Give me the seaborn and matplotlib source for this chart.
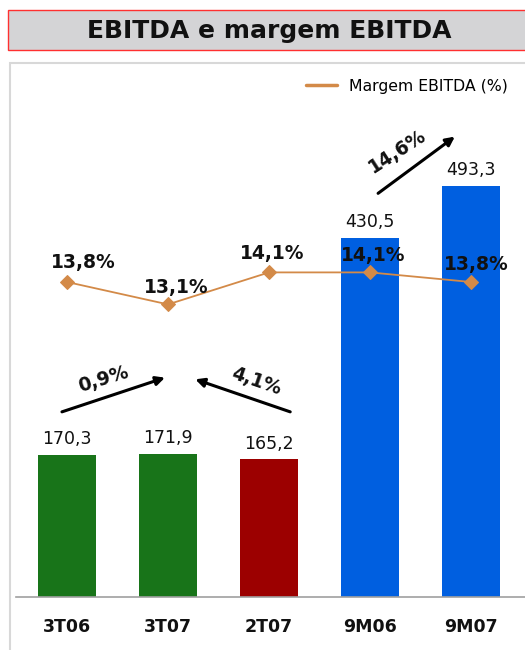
import matplotlib
matplotlib.use("Agg")
import matplotlib.pyplot as plt
from matplotlib.patches import Rectangle
import numpy as np
import pandas as pd
import seaborn as sns

categories = ["3T06", "3T07", "2T07", "9M06", "9M07"]
ebitda = [170.3, 171.9, 165.2, 430.5, 493.3]
ebitda_labels = ["170,3", "171,9", "165,2", "430,5", "493,3"]
margem = [13.8, 13.1, 14.1, 14.1, 13.8]
margem_labels = ["13,8%", "13,1%", "14,1%", "14,1%", "13,8%"]
bar_colors = ["#187419", "#187419", "#9c0000", "#005fe0", "#005fe0"]
growth_labels = ["0,9%", "4,1%", "14,6%"]

sns.set_theme(style="white")
plt.rcParams['font.family'] = ['DejaVu Sans']

W, H = 525, 650
fig = plt.figure(figsize=(W / 100, H / 100), dpi=100)

def fx(px):
    return px / W

def fy(py):
    return 1 - py / H

# panel border
fig.patches.append(Rectangle((fx(10), fy(700)), fx(560), (700 - 63) / H,
                             transform=fig.transFigure, fill=False,
                             edgecolor="#d8d8d8", linewidth=1.5, zorder=0))
# title box
fig.patches.append(Rectangle((fx(8), fy(50)), fx(560), 40 / H,
                             transform=fig.transFigure, facecolor="#d4d4d6",
                             edgecolor="#ff3030", linewidth=1.0, zorder=1))
fig.text(fx(269), fy(31), "EBITDA e margem EBITDA", ha="center", va="center",
         fontsize=18, fontweight="bold", color="#111111")

ax_left, ax_right, ax_bottom, ax_top = 16, 525, 597, 70
ax = fig.add_axes([fx(ax_left), fy(ax_bottom), fx(ax_right - ax_left),
                   (ax_bottom - ax_top) / H])
ax.set_facecolor("none")

df = pd.DataFrame({"cat": categories, "val": ebitda})
sns.barplot(data=df, x="cat", y="val", hue="cat", palette=bar_colors,
            width=0.58, legend=False, ax=ax, saturation=1, edgecolor="none")

px_per_unit = 0.834
ax.set_ylim(0, (ax_bottom - ax_top) / px_per_unit)
xl = ((ax_left - 67) / 101, (ax_right - 67) / 101)
ax.set_xlim(*xl)

for i, (v, lab) in enumerate(zip(ebitda, ebitda_labels)):
    ax.text(i, v + 8, lab, ha="center", va="bottom", fontsize=12.5, color="#111111")

ax.set_xlabel("")
ax.set_ylabel("")
ax.set_yticks([])
ax.tick_params(axis="x", length=0, pad=15)
for t in ax.get_xticklabels():
    t.set_fontweight("bold")
    t.set_fontsize(12.5)
    t.set_color("#111111")
for s in ["top", "right", "left"]:
    ax.spines[s].set_visible(False)
ax.spines["bottom"].set_color("#a0a0a0")
ax.spines["bottom"].set_linewidth(1.2)

# secondary axis for margin
ax2 = ax.twinx()
px2 = 32.0
bottom2 = 13.8 - (ax_bottom - 282) / px2
ax2.set_ylim(bottom2, bottom2 + (ax_bottom - ax_top) / px2)
sns.lineplot(x=np.arange(len(categories)), y=margem, ax=ax2, color="#d38a48",
             marker="D", markersize=7, markeredgecolor="#d38a48", linewidth=1.3,
             label="Margem EBITDA (%)")
ax2.set_xlim(*xl)
ax2.set_yticks([])
for s in ax2.spines.values():
    s.set_visible(False)
label_dx = [0.16, 0.08, 0.03, 0.03, 0.05]
label_off = [0.6, 0.52, 0.58, 0.52, 0.55]
for i, (m, lab) in enumerate(zip(margem, margem_labels)):
    ax2.text(i + label_dx[i], m + label_off[i], lab, ha="center",
             va="center", fontsize=13.5, fontweight="bold", color="#111111")

leg = ax2.legend(loc="upper right", bbox_to_anchor=(0.995, 1.01), frameon=False,
                 fontsize=11.3, handlelength=2.0, handletextpad=0.8)
for h in leg.legend_handles:
    h.set_marker("")
    h.set_linewidth(2.5)
for t in leg.get_texts():
    t.set_color("#000000")

# growth arrows (primary axis data coords)
arrow_kw = dict(arrowstyle="-|>", color="black", lw=2.2, mutation_scale=13,
                shrinkA=0, shrinkB=0)
ax.annotate("", xy=(0.97, 263), xytext=(-0.05, 222), arrowprops=arrow_kw)
ax.annotate("", xy=(1.27, 261), xytext=(2.21, 222), arrowprops=arrow_kw)
ax.annotate("", xy=(3.84, 552), xytext=(3.08, 484), arrowprops=arrow_kw)
ax.text(0.36, 261, growth_labels[0], rotation=17, ha="center", va="center",
        fontsize=13.5, fontweight="bold", color="#111111")
ax.text(1.87, 258, growth_labels[1], rotation=-19, ha="center", va="center",
        fontsize=13.5, fontweight="bold", color="#111111")
ax.text(3.27, 534, growth_labels[2], rotation=33, ha="center", va="center",
        fontsize=13.5, fontweight="bold", color="#111111")

fig.savefig("out.png", dpi=100)
